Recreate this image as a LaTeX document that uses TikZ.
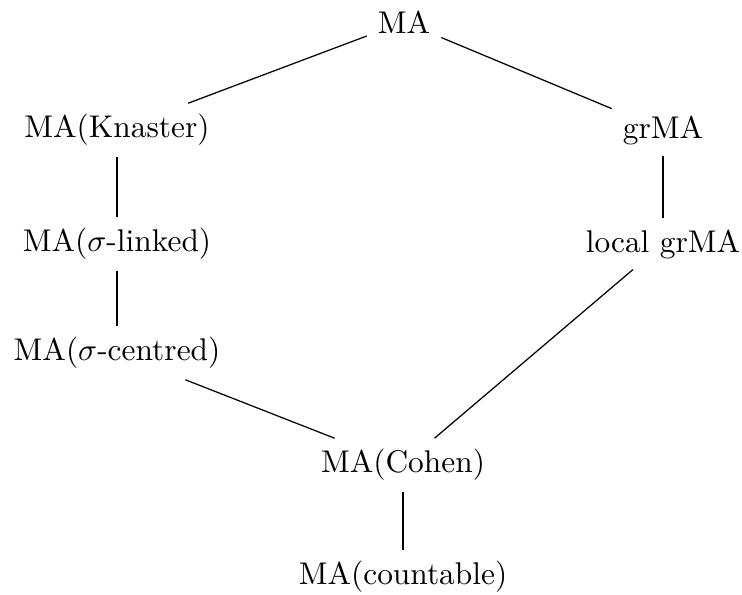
\documentclass[tikz,border=0pt]{standalone}
\begin{document}
\begin{tikzpicture}[x={(0.3185pt,0)},y={(0,-0.3185pt)},
  lbl/.style={inner sep=3.33pt},
  edge/.style={line width=0.4pt}]
\useasboundingbox (0,0) rectangle (742,594);
\node[lbl] (ma) at (404,22) {MA};
\node[lbl] (kn) at (117,130) {MA(Knaster)};
\node[lbl] (gr) at (663,130) {grMA};
\node[lbl] (sl) at (117,244) {MA($\sigma$-linked)};
\node[lbl] (lg) at (663,244) {local grMA};
\node[lbl] (sc) at (117,353) {MA($\sigma$-centred)};
\node[lbl] (co) at (403,465) {MA(Cohen)};
\node[lbl] (ct) at (403,577) {MA(countable)};
\draw[edge] (ma) -- (kn);
\draw[edge] (ma) -- (gr);
\draw[edge] (kn) -- (sl);
\draw[edge] (sl) -- (sc);
\draw[edge] (gr) -- (lg);
\draw[edge] (sc) -- (co);
\draw[edge] (lg) -- (co);
\draw[edge] (co) -- (ct);
\end{tikzpicture}
\end{document}
